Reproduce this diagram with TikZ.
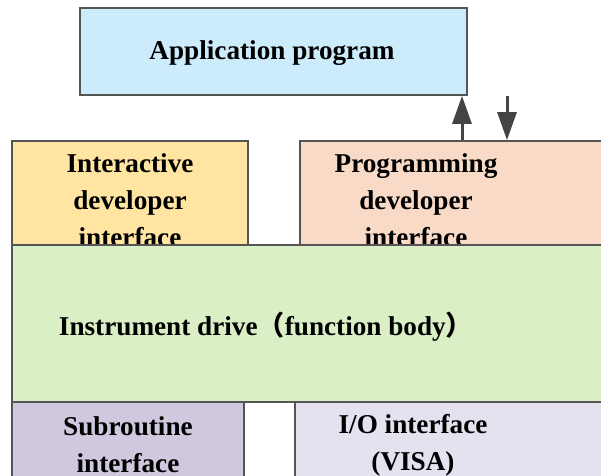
\documentclass[tikz,border=0pt]{standalone}
\usepackage{fontspec}
\setmainfont{Liberation Serif}
\newfontfamily\cjk{Noto Sans CJK SC}
\usetikzlibrary{arrows.meta}
\definecolor{bordc}{HTML}{555555}
\definecolor{appc}{HTML}{CCEBFB}
\definecolor{interc}{HTML}{FFE5A1}
\definecolor{progc}{HTML}{F8DAC6}
\definecolor{drvc}{HTML}{DAEFC6}
\definecolor{subc}{HTML}{D0C8DF}
\definecolor{ioc}{HTML}{E5E1EF}
\tikzset{
  box/.style={draw=bordc, line width=1.8pt, rectangle, inner sep=0pt},
  lbl/.style={align=center, inner sep=0pt, font=\fontsize{27.2}{37.2}\selectfont\bfseries},
  arr/.style={draw=bordc!80!black, line width=3pt, -{Triangle[width=19pt,length=28pt]}}
}
\begin{document}
\begin{tikzpicture}[x=1pt,y=-1pt]
\useasboundingbox (0,0) rectangle (601,475);
\clip (0,0) rectangle (601,475);
\fill[white] (0,0) rectangle (601,475);
% application
\node[box, fill=appc, minimum width=387pt, minimum height=87pt] (app) at (273.5,51.5) {};
\node[lbl] (apptxt) at (272,53) {Application program};
% interactive
\node[box, fill=interc, minimum width=236pt, minimum height=104pt] (inter) at (130,193) {};
\node[lbl] (intertxt) at (130,200) {Interactive\\developer\\interface};
% programming
\node[box, fill=progc, minimum width=330pt, minimum height=104pt] (prog) at (465,193) {};
\node[lbl] (progtxt) at (416,200) {Programming\\developer\\interface};
% instrument drive
\node[box, fill=drvc, minimum width=610pt, minimum height=157pt] (drv) at (317,323.5) {};
\node[lbl] (drvtxt) at (266,327) {Instrument drive{\cjk （}function body{\cjk ）}};
% subroutine
\node[box, fill=subc, minimum width=232pt, minimum height=90pt] (sub) at (128,447) {};
\node[lbl] (subtxt) at (128,445) {Subroutine\\interface};
% io
\node[box, fill=ioc, minimum width=320pt, minimum height=90pt] (io) at (455,447) {};
\node[lbl] (iotxt) at (413,445) {I/O interface\\(VISA)};
% arrows
\coordinate (upx) at (462,0);
\coordinate (dnx) at (507,0);
\draw[arr] (prog.north -| upx) -- (app.south -| upx);
\draw[arr] (app.south -| dnx) -- (prog.north -| dnx);
\end{tikzpicture}
\end{document}
